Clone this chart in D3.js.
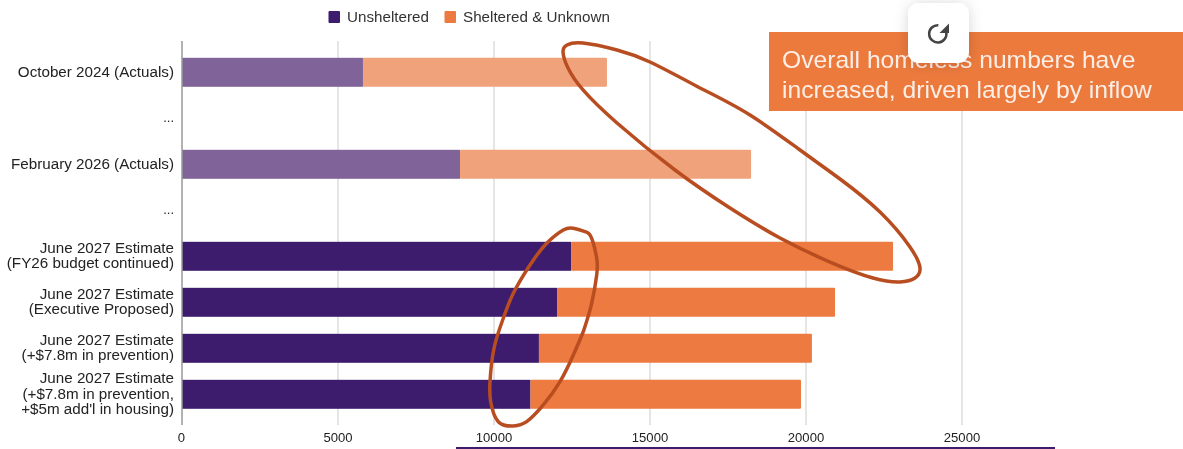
<!DOCTYPE html>
<html>
<head>
<meta charset="utf-8">
<script src="https://cdn.jsdelivr.net/npm/d3@7"></script>
<style>
html,body{margin:0;padding:0;background:#fff;overflow:hidden}
svg{display:block}
text{font-family:"Liberation Sans",Arial,sans-serif}
</style>
</head>
<body>
<svg id="chart" width="1183" height="449"></svg>
<script>
const categories = [
  ["October 2024 (Actuals)"],
  ["..."],
  ["February 2026 (Actuals)"],
  ["..."],
  ["June 2027 Estimate","(FY26 budget continued)"],
  ["June 2027 Estimate","(Executive Proposed)"],
  ["June 2027 Estimate","(+$7.8m in prevention)"],
  ["June 2027 Estimate","(+$7.8m in prevention,","+$5m add'l in housing)"]
];
const seriesNames = ["Unsheltered","Sheltered & Unknown"];
const unsheltered = [5800,0,8910,0,12470,12020,11440,11170];
const shelteredUnknown = [7820,0,9330,0,10320,8910,8750,8670];
const faded = [true,false,true,false,false,false,false,false];
const xTicks = [0,5000,10000,15000,20000,25000];
const calloutLines = ["Overall homeless numbers have","increased, driven largely by inflow"];
// hand-drawn rings: [value, row position], each starting on a straight stretch
const ringInflow = [[16603,0.337],[18205,0.924],[19808,1.685],[21090,2.315],[22372,3.033],[23333,3.793],[23654,4.25],[23494,4.467],[23013,4.554],[22147,4.467],[20769,4.12],[19167,3.598],[17564,2.946],[15801,2.12],[13942,1.098],[12853,0.38],[12372,-0.098],[12212,-0.446],[12340,-0.598],[12853,-0.641],[13942,-0.489],[15000,-0.228],[16603,0.337]];
const ringUnsheltered = [[12862,5.635],[12542,6.141],[12115,6.722],[11580,7.228],[11048,7.591],[10619,7.685],[10138,7.591],[9894,7.157],[9872,6.722],[10000,5.996],[10298,5.343],[10619,4.8],[11154,4.185],[11689,3.713],[12221,3.424],[12542,3.387],[12917,3.461],[13131,3.604],[13292,4.039],[13292,4.402],[13131,5.017],[12862,5.635]];

const purple="#3c1a6e", orange="#ed7a3f", purpleFaded="#7f6399", orangeFaded="#f0a27a", ringColor="#b94e20", textColor="#222";
const svg=d3.select("#chart");
const x=d3.scaleLinear().domain([0,25000]).range([182,962]);
const rows=d3.range(categories.length);
const y=d3.scaleBand().domain(rows).range([49.3,417.3]).paddingInner(0.37).paddingOuter(0.185);
const rowPos=d3.scaleLinear().domain([0,1]).range([72.5,118.5]);
const plotTop=41,plotBottom=425;

const defs=svg.append("defs");
const f=defs.append("filter").attr("id","btn").attr("x","-50%").attr("y","-50%").attr("width","200%").attr("height","200%");
f.append("feDropShadow").attr("dx",0).attr("dy",1).attr("stdDeviation",7).attr("flood-color","#000").attr("flood-opacity",0.16);
const soft=defs.append("filter").attr("id","soft");
soft.append("feGaussianBlur").attr("stdDeviation",0.4);

const plot=svg.append("g").attr("filter","url(#soft)");
// grid
plot.append("g").selectAll("line").data(xTicks.slice(1)).join("line")
  .attr("x1",d=>x(d)).attr("x2",d=>x(d)).attr("y1",plotTop).attr("y2",plotBottom)
  .attr("stroke","#dcdcdc").attr("stroke-width",1.5);

// bars
const table=rows.map(i=>({row:i,u:unsheltered[i],s:shelteredUnknown[i]}));
const stacked=d3.stack().keys(["u","s"])(table);
const colors=[purple,orange], fadedColors=[purpleFaded,orangeFaded];
stacked.forEach((layer,k)=>{
  plot.append("g").selectAll("rect").data(layer.filter(d=>d[1]>d[0])).join("rect")
    .attr("x",d=>x(d[0])).attr("y",d=>y(d.data.row))
    .attr("width",d=>x(d[1])-x(d[0])).attr("height",y.bandwidth())
    .attr("rx",k===1?1:0)
    .attr("fill",d=>faded[d.data.row]?fadedColors[k]:colors[k]);
});
// axis line
plot.append("line").attr("x1",182).attr("x2",182).attr("y1",plotTop).attr("y2",plotBottom)
  .attr("stroke","#999").attr("stroke-width",1.5);

// x tick labels
plot.append("g").selectAll("text").data(xTicks).join("text")
  .attr("x",d=>x(d)-(d===0?0.5:0)).attr("y",441.5).attr("text-anchor","middle")
  .attr("font-size",13.1).attr("fill",textColor).text(d=>d);

// category labels
const labels=plot.append("g").selectAll("text").data(categories).join("text")
  .attr("text-anchor","end").attr("font-size",d=>d[0]==="..."?13:15.2).attr("fill",textColor);
labels.each(function(lines,i){
  const c=rowPos(i), lh=15.4;
  const start=c-(lines.length-1)*lh/2+(lines[0]==="..."?3:4);
  d3.select(this).selectAll("tspan").data(lines).join("tspan")
    .attr("x",174).attr("y",(d,j)=>start+j*lh).text(d=>d);
});

// legend
const legend=plot.append("g");
const legendX=[[328.5,347],[444.5,463]];
seriesNames.forEach((n,i)=>{
  legend.append("rect").attr("x",legendX[i][0]).attr("y",11).attr("width",11.5).attr("height",12).attr("rx",1).attr("fill",colors[i]);
  legend.append("text").attr("x",legendX[i][1]).attr("y",21.7).attr("font-size",15.2).attr("fill","#333").text(n);
});

// rings
const ring=d3.line().x(d=>x(d[0])).y(d=>rowPos(d[1])).curve(d3.curveNatural);
[ringInflow,ringUnsheltered].forEach(r=>{
  plot.append("path").attr("d",ring(r)).attr("fill","none").attr("stroke",ringColor).attr("stroke-width",3.5);
});

// bottom rule
plot.append("line").attr("x1",456).attr("x2",1055).attr("y1",448).attr("y2",448).attr("stroke",purple).attr("stroke-width",2);

// callout
const callout=svg.append("g").attr("filter","url(#soft)");
callout.append("rect").attr("x",769).attr("y",32).attr("width",414).attr("height",79).attr("fill","#ec7a3e");
callout.selectAll("text").data(calloutLines).join("text")
  .attr("x",782).attr("y",(d,i)=>67.7+i*30).attr("font-size",24.65).attr("fill","#fdeee6").text(d=>d);

// reload button
const btn=svg.append("g");
btn.append("rect").attr("x",908).attr("y",3).attr("width",61).attr("height",60).attr("rx",11).attr("fill","#fff").attr("filter","url(#btn)");
const iconArc=d3.arc().innerRadius(7.4).outerRadius(9.9).startAngle(Math.PI*0.45).endAngle(Math.PI*2.02);
btn.append("path").attr("transform","translate(937.8,33.8)").attr("d",iconArc()).attr("fill","#444");
btn.append("path").attr("d",d3.line()([[949,23.5],[949,33],[939.5,33]])+"Z").attr("fill","#444");
</script>
</body>
</html>
